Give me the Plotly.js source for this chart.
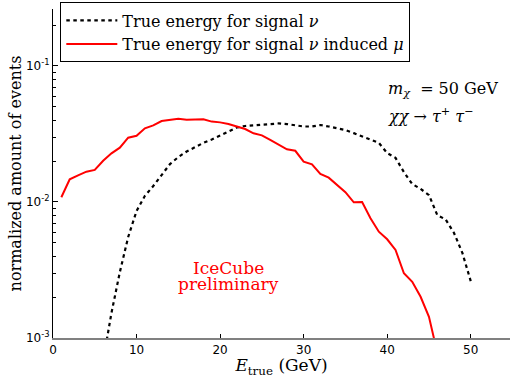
<!DOCTYPE html>
<html>
<head>
<meta charset="utf-8">
<script src="https://cdn.plot.ly/plotly-3.0.1.min.js"></script>
<style>html,body{margin:0;padding:0;background:#fff;}#chart{width:510px;height:378px;}</style>
</head>
<body>
<div id="chart"></div>
<script>
// True energy for signal nu (black dashed)
const energyNu = [6, 7, 8, 9, 10, 11, 12, 13, 14, 15, 16, 17, 18, 19, 20, 21, 22, 23, 24, 25, 26, 27, 28, 29, 30, 31, 32, 33, 34, 35, 36, 37, 38, 39, 40, 41, 42, 43, 44, 45, 46, 47, 48, 49, 50];
const valuesNu = [0.00068, 0.00153, 0.00305, 0.00553, 0.00859, 0.0111, 0.0131, 0.0158, 0.0190, 0.0214, 0.0235, 0.0253, 0.0272, 0.0288, 0.0309, 0.0330, 0.0353, 0.0362, 0.0365, 0.0368, 0.0371, 0.0378, 0.0374, 0.0365, 0.0359, 0.0359, 0.0368, 0.0359, 0.0350, 0.0338, 0.0321, 0.0305, 0.0290, 0.0272, 0.0229, 0.0211, 0.0166, 0.01355, 0.01248, 0.01124, 0.00801, 0.00743, 0.00592, 0.00422, 0.00262];
// True energy for signal nu induced mu (red solid)
const energyMu = [1, 2, 3, 4, 5, 6, 7, 8, 9, 10, 11, 12, 13, 14, 15, 16, 17, 18, 19, 20, 21, 22, 23, 24, 25, 26, 27, 28, 29, 30, 31, 32, 33, 34, 35, 36, 37, 38, 39, 40, 41, 42, 43, 44, 45, 46];
const valuesMu = [0.01083, 0.01468, 0.01571, 0.0167, 0.0172, 0.0201, 0.0228, 0.0251, 0.0297, 0.0307, 0.0348, 0.0366, 0.0394, 0.0403, 0.0410, 0.0403, 0.0406, 0.0406, 0.0390, 0.0385, 0.0375, 0.0358, 0.0344, 0.0320, 0.0309, 0.0286, 0.0264, 0.0244, 0.0238, 0.0198, 0.0189, 0.0161, 0.0151, 0.0133, 0.0118, 0.00995, 0.0100, 0.00759, 0.00605, 0.00532, 0.00444, 0.00299, 0.00259, 0.00201, 0.00143, 0.00078];

const xTicks = [0, 10, 20, 30, 40, 50];
const yTicks = [0.001, 0.01, 0.1];
const yTickText = ['10<sup>-3</sup>', '10<sup>-2</sup>', '10<sup>-1</sup>'];
const yMinor = [0.002,0.003,0.004,0.005,0.006,0.007,0.008,0.009,0.02,0.03,0.04,0.05,0.06,0.07,0.08,0.09,0.2];

const serif = 'DejaVu Serif, serif';
const sans = 'DejaVu Sans, sans-serif';

const traces = [
  {x: energyNu, y: valuesNu, type: 'scatter', mode: 'lines',
   name: 'True energy for signal <i>ν</i>',
   line: {color: 'black', width: 2.2, dash: '3.5px,3.5px'}},
  {x: energyMu, y: valuesMu, type: 'scatter', mode: 'lines',
   name: 'True energy for signal <i>ν</i> induced <i>μ</i>',
   line: {color: 'red', width: 2}}
];

const layout = {
  width: 510, height: 378,
  margin: {l: 53, r: 0, t: 9, b: 40},
  paper_bgcolor: 'white', plot_bgcolor: 'white',
  showlegend: true,
  legend: {x: 0.016, y: 1.02, xanchor: 'left', yanchor: 'top',
           bgcolor: 'white', bordercolor: 'black', borderwidth: 1,
           font: {family: serif, size: 16, color: 'black'}, itemwidth: 51},
  xaxis: {range: [0, 54.7], tickvals: xTicks, ticks: 'inside', ticklen: 4, tickcolor: 'black',
          showline: true, linecolor: '#808080', linewidth: 2, showgrid: false, zeroline: false,
          tickfont: {family: sans, size: 12, color: 'black'},
          title: {text: '<i>E</i><sub>true</sub> (GeV)', font: {family: serif, size: 17, color: 'black'}, standoff: 0}},
  xaxis2: {range: [0, 54.7], overlaying: 'x', side: 'top', tickvals: xTicks, ticks: 'inside', ticklen: 4,
           tickcolor: 'black', showline: true, linecolor: 'black', linewidth: 1, showticklabels: false,
           showgrid: false, zeroline: false, matches: 'x'},
  yaxis: {type: 'log', range: [-3, -0.581], tickvals: yTicks, ticktext: yTickText,
          ticks: 'inside', ticklen: 5, tickcolor: 'black',
          minor: {tickvals: yMinor, ticks: 'inside', ticklen: 2.5, tickcolor: 'black', showgrid: false},
          showline: true, linecolor: 'black', linewidth: 1, showgrid: false, zeroline: false,
          tickfont: {family: sans, size: 12, color: 'black'},
          title: {text: 'normalized amount of events', font: {family: serif, size: 16, color: 'black'}, standoff: 0}},
  annotations: [
    {xref: 'x', yref: 'paper', x: 39.9, y: 0.755, xanchor: 'left', yanchor: 'middle', showarrow: false,
     text: '<i>m</i><sub><i>χ</i></sub>  = 50 GeV', font: {family: serif, size: 16, color: 'black'}},
    {xref: 'x', yref: 'paper', x: 39.9, y: 0.675, xanchor: 'left', yanchor: 'middle', showarrow: false,
     text: '<i>χχ</i> → <i>τ</i><sup>+</sup> <i>τ</i><sup>−</sup>', font: {family: serif, size: 16, color: 'black'}},
    {xref: 'x', yref: 'paper', x: 21, y: 0.212, xanchor: 'center', yanchor: 'middle', showarrow: false,
     text: 'IceCube', font: {family: serif, size: 17, color: 'red'}},
    {xref: 'x', yref: 'paper', x: 21, y: 0.163, xanchor: 'center', yanchor: 'middle', showarrow: false,
     text: 'preliminary', font: {family: serif, size: 17, color: 'red'}}
  ]
};

Plotly.newPlot('chart', traces, layout, {displayModeBar: false, staticPlot: true});
</script>
</body>
</html>
